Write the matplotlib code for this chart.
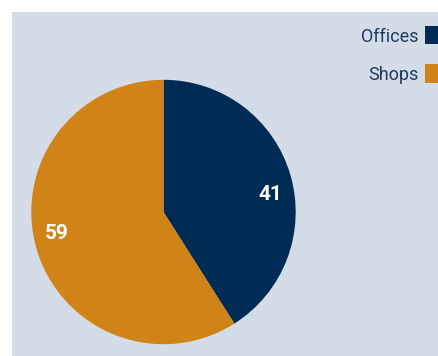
import numpy as np
import matplotlib
matplotlib.use("Agg")
import matplotlib.pyplot as plt
from matplotlib.patches import Rectangle

categories = ["Offices", "Shops"]
values = [41, 59]
colors = ["#002b54", "#d08316"]
bg = "#d4dce8"
text_color = "#1f3a5f"

W, H = 439, 356
fig = plt.figure(figsize=(W / 100, H / 100), dpi=100)
fig.patch.set_facecolor("white")
fig.patches.append(Rectangle((12 / W, 0), 1, 1 - 12 / H, transform=fig.transFigure,
                             facecolor=bg, edgecolor="none", zorder=-5))

cx, cy, r = 163.5, 212.0, 132.2
ax = fig.add_axes([(cx - r) / W, 1 - (cy + r) / H, 2 * r / W, 2 * r / H])
ax.set_zorder(2)
ax.set_facecolor("none")
wedges, _ = ax.pie(values, colors=colors, startangle=90, counterclock=False,
                   radius=1, wedgeprops=dict(linewidth=0))
ax.set_xlim(-1, 1)
ax.set_ylim(-1, 1)
ax.set_aspect("equal")
ax.axis("off")

# value labels
total = sum(values)
start = 90.0
for v in values:
    span = 360.0 * v / total
    mid = np.deg2rad(start - span / 2 - 6)
    ax.text(0.82 * np.cos(mid), 0.82 * np.sin(mid), f"{v}", color="white",
            fontsize=15, fontweight="bold", ha="center", va="center_baseline",
            family="Roboto")
    start -= span

leg = fig.legend(wedges, categories, loc="upper right",
                 bbox_to_anchor=(443 / W, 1 - 27.3 / H), bbox_transform=fig.transFigure,
                 frameon=False, markerfirst=False,
                 handlelength=1.0, handleheight=1.0, handletextpad=0.35,
                 labelspacing=1.1, borderpad=0, borderaxespad=0,
                 prop={"family": "Roboto", "size": 13})
for t in leg.get_texts():
    t.set_color(text_color)
for h in leg.legend_handles:
    c = h.get_y() + h.get_height() / 2
    h.set_height(13)
    h.set_y(c - 6.5)

fig.savefig("out.png", dpi=100)
